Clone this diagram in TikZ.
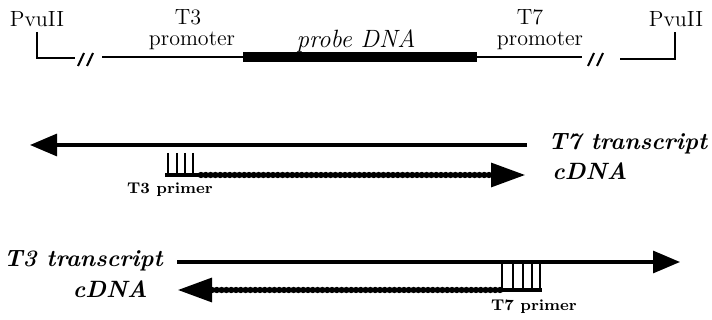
\documentclass[tikz,border=0pt]{standalone}
\usetikzlibrary{arrows.meta}
\begin{document}
\begin{tikzpicture}[x=0.5pt,y=-0.5pt,
  site/.style={font=\fontsize{11}{13}\selectfont, inner sep=0pt},
  prom/.style={font=\fontsize{11}{13}\selectfont, inner sep=0pt, anchor=base},
  probe/.style={font=\fontsize{12.5}{14}\selectfont\itshape, inner sep=0pt, anchor=base},
  strand/.style={font=\fontsize{11.8}{14}\selectfont\bfseries\itshape, inner sep=0pt, anchor=base west},
  primerlbl/.style={font=\fontsize{7.8}{10}\selectfont\bfseries, inner sep=0pt},
  vec/.style={line width=1pt},
  insert/.style={line width=5pt},
  rna/.style={line width=1.6pt, -{Triangle[length=13.5pt,width=11pt]}},
  beads/.style={line width=3.2pt, dash pattern=on 0pt off 2.4pt, line cap=round},
  core/.style={line width=2.2pt},
  cdnahead/.style={line width=1.6pt, -{Triangle[length=17pt,width=12pt]}},
  tick/.style={line width=1.2pt},
  primerbar/.style={line width=2.2pt},
]
\useasboundingbox (0,0) rectangle (712,320);

% ---- vector map with the cloned probe ----
\node[site] (pvl) at (37,19) {PvuII};
\node[site] (pvr) at (676,19) {PvuII};
\coordinate (l0) at (37,32);
\coordinate (l1) at (37,58);
\coordinate (l2) at (75,58);
\draw[vec] (l0) -- (l1) -- (l2);
\coordinate (bka) at (78,66); \coordinate (bkb) at (84,53);
\coordinate (bkc) at (87,66); \coordinate (bkd) at (93,53);
\draw[vec] (bka) -- (bkb) (bkc) -- (bkd);
\coordinate (t3s) at (102,57);
\coordinate (ins1) at (243,57);
\coordinate (ins2) at (477,57);
\coordinate (t7e) at (582,57);
\draw[vec] (t3s) -- (ins1);
\draw[insert] (ins1) -- (ins2);
\draw[vec] (ins2) -- (t7e);
\coordinate (bke) at (588,66); \coordinate (bkf) at (594,53);
\coordinate (bkg) at (597,66); \coordinate (bkh) at (603,53);
\draw[vec] (bke) -- (bkf) (bkg) -- (bkh);
\coordinate (r0) at (620,59);
\coordinate (r1) at (675,59);
\coordinate (r2) at (675,32);
\draw[vec] (r0) -- (r1) -- (r2);
\node[prom] (t3) at (188,25) {T3};
\node[prom] (t3p) at (192,46) {promoter};
\node[prom] (t7) at (530,25) {T7};
\node[prom] (t7p) at (540,46) {promoter};
\node[probe] (prb) at (356,48) {probe DNA};

% ---- T7 transcript primed with T3 primer ----
\coordinate (m0) at (527,145);
\coordinate (m1) at (30,145);
\draw[rna] (m0) -- (m1);
\node[strand] (t7t) at (548,150) {T7 transcript};
\coordinate (pa) at (165,175);
\coordinate (pb) at (201,175);
\draw[primerbar] (pa) -- (pb);
\foreach \x in {168,177,185,193} \draw[tick] (\x,153) -- (\x,175);
\coordinate (ca) at (201,175);
\coordinate (cb) at (492,175);
\coordinate (cc) at (480,175);
\coordinate (cd) at (525,175);
\draw[core] (ca) -- (cb);
\draw[beads] (ca) -- (cb);
\draw[cdnahead] (cc) -- (cd);
\node[strand] (c1) at (552,180) {cDNA};
\node[primerlbl] (t3pr) at (170,190) {T3 primer};

% ---- T3 transcript primed with T7 primer ----
\node[strand, anchor=base east] (t3t) at (163,267) {T3 transcript};
\coordinate (b0) at (177,262);
\coordinate (b1) at (680,262);
\draw[rna] (b0) -- (b1);
\node[strand, anchor=base east] (c2) at (148,298) {cDNA};
\coordinate (da) at (500,290);
\coordinate (db) at (212,290);
\coordinate (dc) at (225,290);
\coordinate (dd) at (178,290);
\draw[core] (da) -- (db);
\draw[beads] (da) -- (db);
\draw[cdnahead] (dc) -- (dd);
\coordinate (qa) at (500,290);
\coordinate (qb) at (542,290);
\draw[primerbar] (qa) -- (qb);
\foreach \x in {502,513,523,532,540} \draw[tick] (\x,262) -- (\x,290);
\node[primerlbl] (t7pr) at (534,307) {T7 primer};
\end{tikzpicture}
\end{document}
